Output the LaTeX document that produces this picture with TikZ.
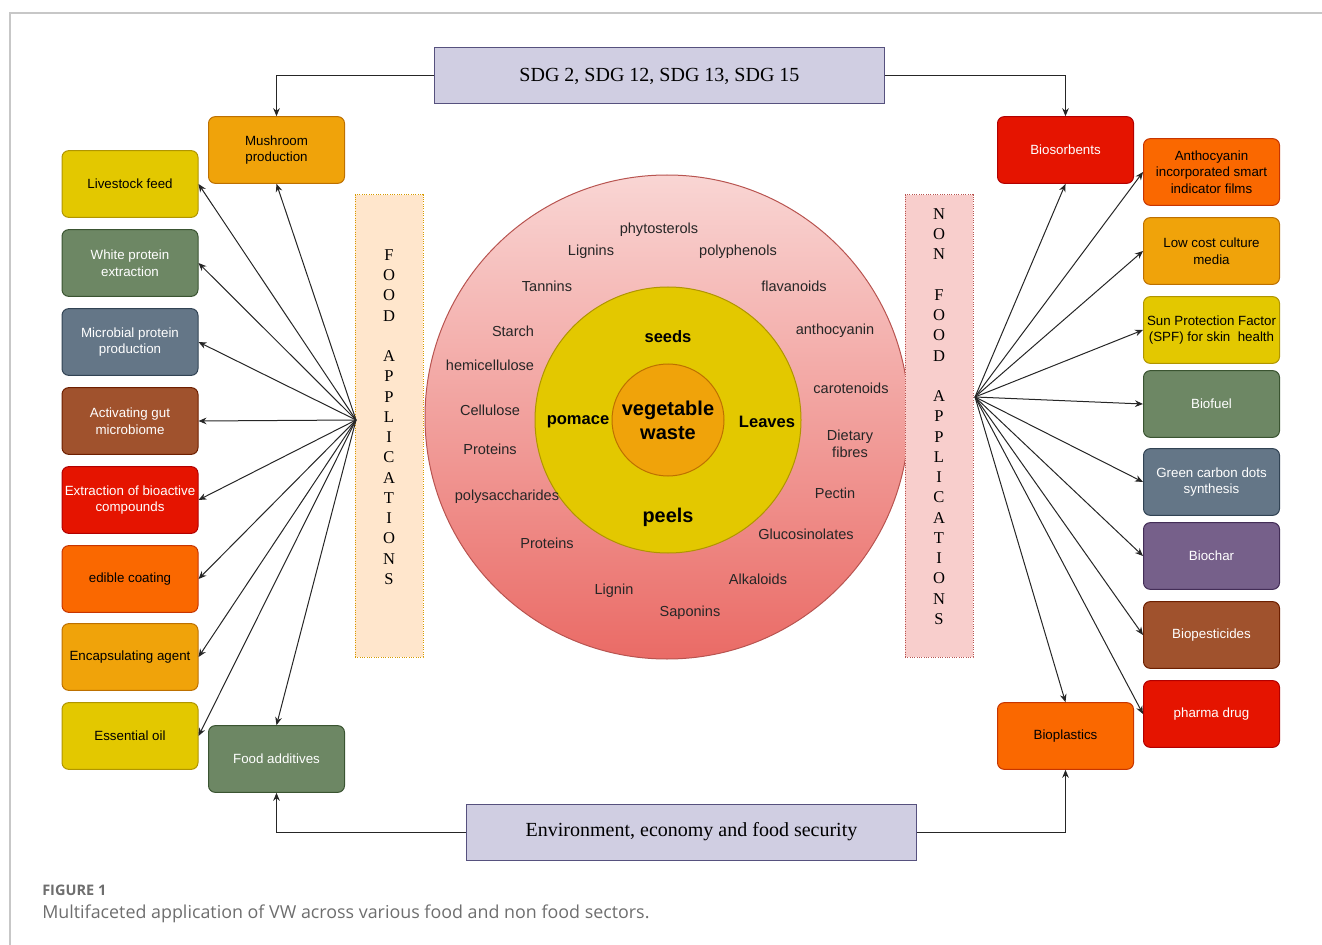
\documentclass[tikz,border=0pt]{standalone}
\usepackage{fontspec}
\setmainfont{Liberation Serif}
\setsansfont{Liberation Sans}
\newfontfamily\capfont{Open Sans}
\usetikzlibrary{arrows.meta,positioning,shapes.geometric}
\definecolor{vw_yellow}{HTML}{E3C800}\definecolor{vw_yellowd}{HTML}{B09500}
\definecolor{vw_green}{HTML}{6D8764}\definecolor{vw_greend}{HTML}{3A5431}
\definecolor{vw_slate}{HTML}{647687}\definecolor{vw_slated}{HTML}{314354}
\definecolor{vw_brown}{HTML}{A0522D}\definecolor{vw_brownd}{HTML}{6D1F00}
\definecolor{vw_red}{HTML}{E51400}\definecolor{vw_redd}{HTML}{B20000}
\definecolor{vw_orange}{HTML}{FA6800}\definecolor{vw_oranged}{HTML}{C73500}
\definecolor{vw_amber}{HTML}{F0A30A}\definecolor{vw_amberd}{HTML}{BD7000}
\definecolor{vw_violet}{HTML}{76608A}\definecolor{vw_violetd}{HTML}{432D57}
\definecolor{vw_lav}{HTML}{D0CEE2}\definecolor{vw_lavd}{HTML}{56517E}
\definecolor{vw_peach}{HTML}{FFE6CC}\definecolor{vw_peachd}{HTML}{D79B00}
\definecolor{vw_pink}{HTML}{F8CECC}\definecolor{vw_pinkd}{HTML}{B85450}
\definecolor{vw_rose}{HTML}{EA6B66}
\definecolor{vw_cap}{RGB}{110,110,110}

\begin{document}
\begin{tikzpicture}[x=0.75pt, y=-0.75pt,
    box/.style={draw, rounded corners=5pt, line width=0.75pt, minimum width=102pt,
                minimum height=50pt, align=center, inner sep=1pt,
                font=\sffamily\fontsize{10}{12.5}\selectfont},
    ybox/.style={box, fill=vw_yellow, draw=vw_yellowd, text=black},
    gbox/.style={box, fill=vw_green, draw=vw_greend, text=white},
    sbox/.style={box, fill=vw_slate, draw=vw_slated, text=white},
    bbox/.style={box, fill=vw_brown, draw=vw_brownd, text=white},
    rbox/.style={box, fill=vw_red, draw=vw_redd, text=white},
    obox/.style={box, fill=vw_orange, draw=vw_oranged, text=black},
    abox/.style={box, fill=vw_amber, draw=vw_amberd, text=black},
    vbox/.style={box, fill=vw_violet, draw=vw_violetd, text=white},
    goal/.style={draw=vw_lavd, fill=vw_lav, line width=0.75pt, minimum width=338pt,
                 minimum height=42pt, font=\fontsize{15}{18}\selectfont},
    strip/.style={densely dotted, line width=0.75pt, minimum width=51pt, minimum height=346.5pt},
    vert/.style={align=center, inner sep=0pt, font=\fontsize{12.4}{15.2}\selectfont},
    lbl/.style={inner sep=0pt, align=center, text=black!85,
                font=\sffamily\fontsize{10.9}{12.5}\selectfont},
    part/.style={inner sep=0pt, font=\sffamily\bfseries\fontsize{12.4}{14}\selectfont},
    arr/.style={-{Stealth[length=6pt,width=5pt]}, line width=0.75pt, draw=black!85}]
  \useasboundingbox (0,0) rectangle (1322,945);
  \draw[black!22, line width=1.5pt] (10,945) -- (10,13) -- (1322,13);

  % centre wheel
  \node[circle, draw=vw_pinkd, top color=vw_pink!85, bottom color=vw_rose, line width=0.75pt,
        minimum size=363pt, inner sep=0pt] (outer) at (667,417) {};
  \node[circle, draw=vw_yellowd, fill=vw_yellow, line width=0.75pt,
        minimum size=199.5pt, inner sep=0pt] (mid) at (668,420) {};
  \node[circle, draw=vw_amberd, fill=vw_amber, line width=0.75pt, minimum size=84pt,
        inner sep=0pt, align=center, font=\sffamily\bfseries\fontsize{15}{18}\selectfont]
        (veg) at (668,420) {vegetable\\waste};
  \node[part] (seeds) at (668,337) {seeds};
  \node[part] (pomace) at (578,422) {pomace};
  \node[part] (leaves) at (767,422) {Leaves};
  \node[part, font=\sffamily\bfseries\fontsize{14.9}{16}\selectfont] (peels) at (668,517) {peels};

  \node[lbl] (phyto) at (659,230) {phytosterols};
  \node[lbl] (lignins) at (591,252) {Lignins};
  \node[lbl] (polyph) at (738,252) {polyphenols};
  \node[lbl] (tann) at (547,286) {Tannins};
  \node[lbl] (flav) at (794,286) {flavanoids};
  \node[lbl] (starch) at (513,331) {Starch};
  \node[lbl] (anthoc) at (835,331) {anthocyanin};
  \node[lbl] (hemi) at (490,365) {hemicellulose};
  \node[lbl] (carot) at (851,388) {carotenoids};
  \node[lbl] (cellu) at (490,410) {Cellulose};
  \node[lbl] (fibres) at (850,444) {Dietary\\fibres};
  \node[lbl] (prot1) at (490,449) {Proteins};
  \node[lbl] (polysac) at (507,497) {polysaccharides};
  \node[lbl] (pectin) at (835,493) {Pectin};
  \node[lbl] (gluco) at (806,534) {Glucosinolates};
  \node[lbl] (prot2) at (547,543) {Proteins};
  \node[lbl] (alkal) at (758,579) {Alkaloids};
  \node[lbl] (lignin) at (614,591) {Lignin};
  \node[lbl] (sapon) at (690,613) {Saponins};

  % side strips
  \node[strip, draw=vw_peachd, fill=vw_peach] (fstrip) at (389,426) {};
  \node[vert] (ftext) at (389,417) {F\\O\\O\\D\\~\\A\\P\\P\\L\\I\\C\\A\\T\\I\\O\\N\\S};
  \node[strip, draw=vw_pinkd, fill=vw_pink] (nstrip) at (939,426) {};
  \node[vert] (ntext) at (939,416.5) {N\\O\\N\\~\\F\\O\\O\\D\\~\\A\\P\\P\\L\\I\\C\\A\\T\\I\\O\\N\\S};

  % goals
  \node[goal] (sdg) at (659.5,76) {SDG 2, SDG 12, SDG 13, SDG 15};
  \node[goal] (env) at (691.5,832) {Environment, economy and food security};

  % food applications
  \node[abox] (mush) at (276.5,150) {Mushroom\\production};
  \node[ybox] (live) at (130,184) {Livestock feed};
  \node[gbox] (white) at (130,263) {White protein\\extraction};
  \node[sbox] (micro) at (130,342) {Microbial protein\\production};
  \node[bbox] (gut) at (130,421) {Activating gut\\microbiome};
  \node[rbox] (bioact) at (130,500) {Extraction of bioactive\\compounds};
  \node[obox] (edible) at (130,579) {edible coating};
  \node[abox] (encap) at (130,657) {Encapsulating agent};
  \node[ybox] (essoil) at (130,736) {Essential oil};
  \node[gbox] (addit) at (276.5,759) {Food additives};

  % non food applications
  \node[rbox] (biosorb) at (1065.5,150) {Biosorbents};
  \node[obox] (antho) at (1211.5,172) {Anthocyanin\\incorporated smart\\indicator films};
  \node[abox] (culture) at (1211.5,251) {Low cost culture\\media};
  \node[ybox] (spf) at (1211.5,330) {Sun Protection Factor\\(SPF) for skin~~health};
  \node[gbox] (biofuel) at (1211.5,404) {Biofuel};
  \node[sbox] (carbon) at (1211.5,482) {Green carbon dots\\synthesis};
  \node[vbox] (biochar) at (1211.5,556) {Biochar};
  \node[bbox] (biopest) at (1211.5,635) {Biopesticides};
  \node[rbox] (pharma) at (1211.5,714) {pharma drug};
  \node[obox] (bioplast) at (1065.5,736) {Bioplastics};

  \coordinate (fhub) at (356,420);
  \coordinate (nhub) at (975,397);

  \draw[arr] (sdg.west) -| (mush.north);
  \draw[arr] (sdg.east) -| (biosorb.north);
  \draw[arr] (env.west) -| (addit.south);
  \draw[arr] (env.east) -| (bioplast.south);

  \foreach \t in {mush.south,live.east,white.east,micro.east,gut.east,bioact.east,
                  edible.east,encap.east,essoil.east,addit.north}
    \draw[arr] (fhub) -- (\t);
  \foreach \t in {biosorb.south,antho.west,culture.west,spf.west,biofuel.west,carbon.west,
                  biochar.west,biopest.west,pharma.west,bioplast.north}
    \draw[arr] (nhub) -- (\t);

  % caption
  \node[anchor=west, inner sep=0pt, text=vw_cap, font=\capfont\bfseries\fontsize{10.9}{12}\selectfont]
       (fig) at (42,890) {FIGURE 1};
  \node[anchor=west, inner sep=0pt, text=vw_cap, font=\capfont\fontsize{13.4}{15}\selectfont]
       (cap) at (42,914) {Multifaceted application of VW across various food and non food sectors.};
\end{tikzpicture}
\end{document}
